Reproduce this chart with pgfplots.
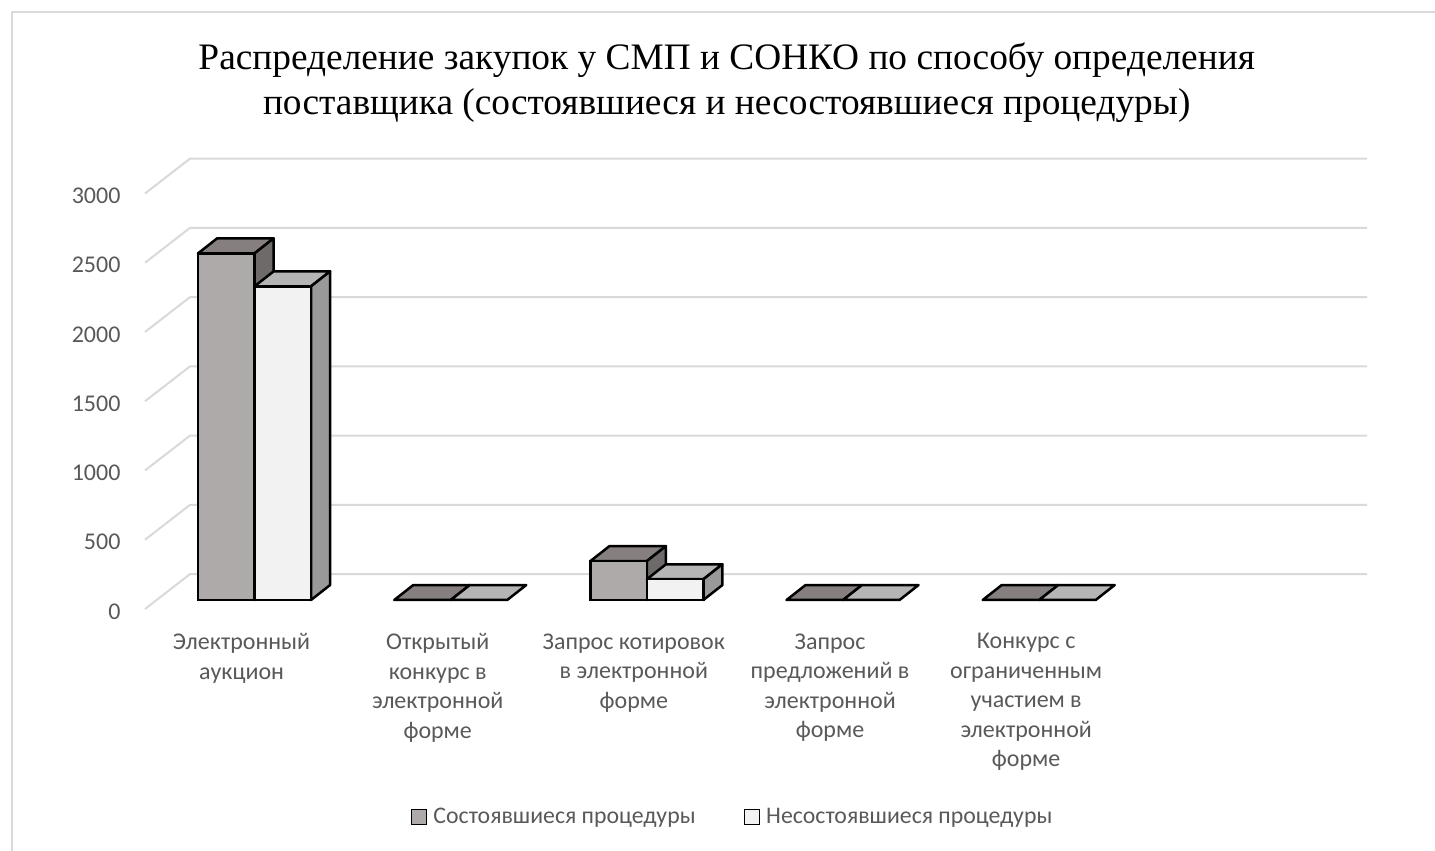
\documentclass[border=0pt]{standalone}
\usepackage{pgfplots}
\pgfplotsset{compat=1.18}
\usepackage{fontspec}
\setmainfont{Carlito}
\newfontfamily\titlefont{Liberation Serif}
\definecolor{gridc}{HTML}{D9D9D9}
\definecolor{txt}{HTML}{595959}
\definecolor{frA}{HTML}{AEAAAA}
\definecolor{tpA}{HTML}{857F7F}
\definecolor{sdA}{HTML}{6E6A6A}
\definecolor{frB}{HTML}{F2F2F2}
\definecolor{tpB}{HTML}{B5B5B5}
\definecolor{sdB}{HTML}{999999}
\pgfplotsset{
  base/.style={scale only axis, width=1177pt, height=415.5pt, xmin=-0.5, xmax=5.5, ymin=0, ymax=3000,
    clip=false, axis line style={draw=none}, major tick length=0pt, minor tick num=0},
  gl/.style={forget plot, no markers, draw=gridc, line width=2pt},
  face/.style={forget plot, no markers, draw=black, line width=2.5pt, line join=round, fill=#1},
}
\begin{document}
\begin{tikzpicture}[x=1pt,y=1pt]
\useasboundingbox (0,0) rectangle (1435,851);
\draw[gridc, line width=2pt] (12,-5) -- (12,838.5) -- (1440,838.5);
% ---- floor, gridlines, value axis, category names
\begin{axis}[base, at={(145pt,242pt)}, anchor=south west,
  ytick={0,500,1000,1500,2000,2500,3000},
  /pgf/number format/assume math mode=true,
  /pgf/number format/1000 sep={},
  yticklabel style={font=\fontsize{24}{28}\selectfont, text=txt, anchor=east, xshift=-21pt, yshift=-2.5pt},
  xtick={0,1,2,3,4},
  xticklabels={{Электронный\\аукцион},{Открытый\\конкурс в\\электронной\\форме},{Запрос котировок\\в электронной\\форме},{Запрос\\предложений в\\электронной\\форме},{Конкурс с\\ограниченным\\участием в\\электронной\\форме}},
  xticklabel style={font=\fontsize{24}{29.5}\selectfont, text=txt, align=center, anchor=north, yshift=-21pt, xshift=-1.5pt},
]
\addplot[gl] coordinates {(-0.5,0) (-0.27,252.5) (5.73,252.5)};
\addplot[gl] coordinates {(-0.5,500) (-0.27,752.5) (5.73,752.5)};
\addplot[gl] coordinates {(-0.5,1000) (-0.27,1252.5) (5.73,1252.5)};
\addplot[gl] coordinates {(-0.5,1500) (-0.27,1752.5) (5.73,1752.5)};
\addplot[gl] coordinates {(-0.5,2000) (-0.27,2252.5) (5.73,2252.5)};
\addplot[gl] coordinates {(-0.5,2500) (-0.27,2752.5) (5.73,2752.5)};
\addplot[gl] coordinates {(-0.5,3000) (-0.27,3252.5) (5.73,3252.5)};
\end{axis}
% ---- bars
\begin{axis}[base, at={(156.5pt,251pt)}, anchor=south west, xtick=\empty, ytick=\empty,
  title={Распределение закупок у СМП и СОНКО по способу определения\\поставщика (состоявшиеся и несостоявшиеся процедуры)},
  title style={font=\titlefont\fontsize{37.35}{45}\selectfont, text=black, align=center, at={(0.4845,1.0)}, anchor=south, yshift=52pt},
  legend style={draw=none, fill=none, font=\fontsize{23.8}{28}\selectfont, text=txt, at={(0.4895,-0.522)}, anchor=center, legend columns=2, column sep=4pt, /tikz/every even column/.append style={column sep=46pt}},
  legend image code/.code={\draw[line width=1.6pt, draw=black, #1] (0pt,-7.5pt) rectangle (15pt,7.5pt);},
]
% Состоявшиеся: tops
\addplot[face=tpA] coordinates {(-0.288,2503) (0,2503) (0.097,2611) (-0.191,2611)} -- cycle;
\addplot[face=tpA] coordinates {(0.712,0) (1,0) (1.097,108) (0.809,108)} -- cycle;
\addplot[face=tpA] coordinates {(1.712,281) (2,281) (2.097,389) (1.809,389)} -- cycle;
\addplot[face=tpA] coordinates {(2.712,0) (3,0) (3.097,108) (2.809,108)} -- cycle;
\addplot[face=tpA] coordinates {(3.712,0) (4,0) (4.097,108) (3.809,108)} -- cycle;
% sides
\addplot[face=sdA] coordinates {(0,2503) (0.097,2611) (0.097,108) (0,0)} -- cycle;
\addplot[face=sdA] coordinates {(2,281) (2.097,389) (2.097,108) (2,0)} -- cycle;
% fronts
\addplot[forget plot, ybar, bar width=56.4pt, bar shift=-28.2pt, draw=black, line width=2.5pt, fill=frA] coordinates {(0,2503) (1,0) (2,281) (3,0) (4,0)};
% Несостоявшиеся: tops
\addplot[face=tpB] coordinates {(0,2265) (0.288,2265) (0.385,2373) (0.097,2373)} -- cycle;
\addplot[face=tpB] coordinates {(1,0) (1.288,0) (1.385,108) (1.097,108)} -- cycle;
\addplot[face=tpB] coordinates {(2,150) (2.288,150) (2.385,258) (2.097,258)} -- cycle;
\addplot[face=tpB] coordinates {(3,0) (3.288,0) (3.385,108) (3.097,108)} -- cycle;
\addplot[face=tpB] coordinates {(4,0) (4.288,0) (4.385,108) (4.097,108)} -- cycle;
% sides
\addplot[face=sdB] coordinates {(0.288,2265) (0.385,2373) (0.385,108) (0.288,0)} -- cycle;
\addplot[face=sdB] coordinates {(2.288,150) (2.385,258) (2.385,108) (2.288,0)} -- cycle;
% fronts
\addplot[forget plot, ybar, bar width=56.4pt, bar shift=28.2pt, draw=black, line width=2.5pt, fill=frB] coordinates {(0,2265) (1,0) (2,150) (3,0) (4,0)};
\addlegendimage{fill=frA}
\addlegendentry{Состоявшиеся процедуры}
\addlegendimage{fill=frB}
\addlegendentry{Несостоявшиеся процедуры}
\end{axis}
\end{tikzpicture}
\end{document}
